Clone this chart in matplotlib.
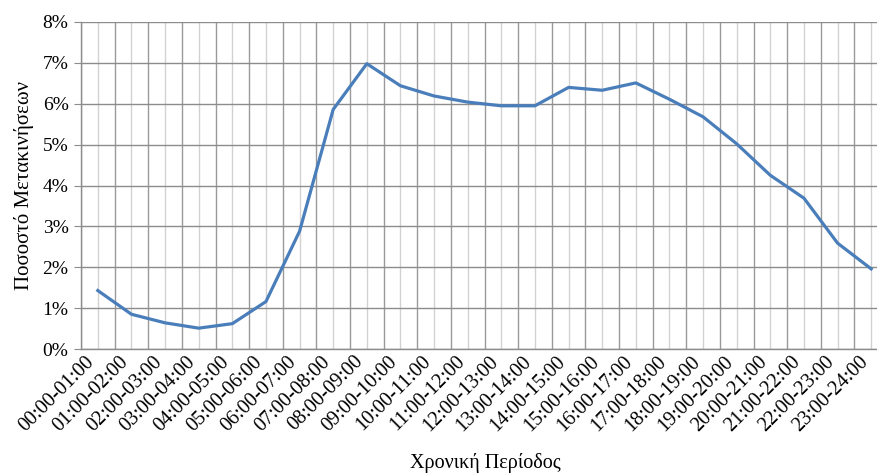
import matplotlib
matplotlib.use('Agg')
import matplotlib.pyplot as plt
import matplotlib.transforms as mtransforms
import numpy as np
from matplotlib.ticker import FixedLocator, PercentFormatter

# hourly periods and share of trips (%)
periods = ['%02d:00-%02d:00' % (h, h + 1) for h in range(24)]
share = [1.43, 0.85, 0.64, 0.51, 0.62, 1.16, 2.88, 5.86, 6.98, 6.44,
         6.19, 6.04, 5.95, 5.95, 6.40, 6.33, 6.51, 6.11, 5.68, 5.02,
         4.25, 3.69, 2.59, 1.96]
y_ticks = list(range(0, 9))

plt.rcParams['font.family'] = ['Liberation Serif', 'DejaVu Serif']

fig = plt.figure(figsize=(8.77, 4.75), dpi=100)
# plot area runs a bit past the right edge of the picture, as in the source
ax = fig.add_axes([81 / 877, 126 / 475, 807 / 877, 327 / 475])

x = np.arange(len(periods))
ax.plot(x, share, color='#4a7ebb', lw=2.3, solid_joinstyle='round', zorder=3)

ax.set_xlim(-0.5, len(periods) - 0.5)
ax.set_ylim(0, 8)
ax.set_yticks(y_ticks)
ax.yaxis.set_major_formatter(PercentFormatter(decimals=0))

# slanted category labels, placed by hand so they can sit a bit left of
# the category centre and the last one stays inside the picture
ax.set_xticks(x)
ax.set_xticklabels([])
lab_trans = ax.get_xaxis_transform() + mtransforms.ScaledTranslation(
    -6 / 100, -10 / 100, fig.dpi_scale_trans)
for xi, name in zip(x, periods):
    ax.text(xi, 0, name, transform=lab_trans, rotation=45, ha='right', va='center',
            rotation_mode='anchor', fontsize=14.5, clip_on=False)

ax.xaxis.set_minor_locator(FixedLocator(np.arange(-0.5, len(periods), 1.0)))
ax.tick_params(axis='x', which='both', length=0)
ax.tick_params(axis='y', length=5, color='#8c8c8c', labelsize=14, pad=4)

# gridlines: category boundaries darker, category centres lighter
ax.grid(axis='y', color='#8c8c8c', lw=1.0, zorder=1)
ax.grid(axis='x', which='minor', color='#9a9a9a', lw=1.0, zorder=1)
ax.grid(axis='x', which='major', color='#d2d2d2', lw=1.0, zorder=1)

for side in ['top', 'right']:
    ax.spines[side].set_visible(False)
for side in ['left', 'bottom']:
    ax.spines[side].set_color('#8c8c8c')
    ax.spines[side].set_linewidth(1.0)

ax.set_ylabel('Ποσοστό Μετακινήσεων', fontsize=15, labelpad=6)
fig.text(485 / 877, 12 / 475, 'Χρονική Περίοδος', fontsize=14.5, ha='center', va='center')

fig.savefig('out.png', dpi=100)
